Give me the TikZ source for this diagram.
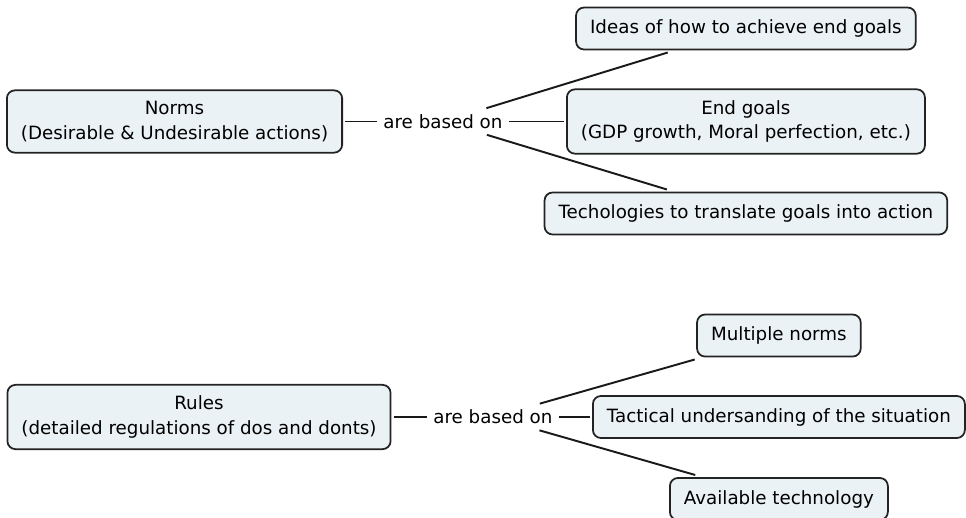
\documentclass[tikz,border=0pt]{standalone}
\usepackage{fontspec}
\setmainfont{DejaVu Sans}
\definecolor{conceptfill}{RGB}{235,242,245}
\definecolor{conceptline}{RGB}{35,35,35}
\begin{document}
\begin{tikzpicture}[x=0.02cm, y=-0.02cm, node distance=2cm, auto, font=\fontsize{10.4}{14}\selectfont]
  % Define styles
  \tikzstyle{concept}=[rectangle, rounded corners=0.16cm, draw=conceptline, line width=1pt, fill=conceptfill, align=center, inner xsep=0.28cm, inner ysep=0.22cm, minimum height=0.84cm, outer sep=0.06cm]
  \tikzstyle{linking}=[inner xsep=0.12cm, inner ysep=0pt, minimum height=0.52cm]
  \tikzstyle{link}=[line width=1.1pt, black!90]

  \useasboundingbox (0,0) rectangle (966,517);

  % Norms
  \node[concept] (norms) at (174.5,121.5) {Norms\\(Desirable \& Undesirable actions)};
  \node[linking, right of=norms, node distance=5.37cm] (basedA) {are based on};
  \node[concept, right of=basedA, node distance=6.06cm] (endgoals) {End goals\\(GDP growth, Moral perfection, etc.)};
  \node[concept, above of=endgoals, node distance=1.86cm] (ideas) {Ideas of how to achieve end goals};
  \node[concept, below of=endgoals, node distance=1.84cm] (techs) {Techologies to translate goals into action};

  % Rules
  \node[concept] (rules) at (199,417) {Rules\\(detailed regulations of dos and donts)};
  \node[linking, right of=rules, node distance=5.88cm] (basedB) {are based on};
  \node[concept, right of=basedB, node distance=5.72cm] (tactical) {Tactical undersanding of the situation};
  \node[concept, above of=tactical, node distance=1.63cm] (multnorms) {Multiple norms};
  \node[concept, below of=tactical, node distance=1.64cm] (availtech) {Available technology};

  % Links
  \draw[link] (norms) -- (basedA);
  \draw[link] (basedA) -- (ideas);
  \draw[link] (basedA) -- (endgoals);
  \draw[link] (basedA) -- (techs);
  \draw[link] (rules) -- (basedB);
  \draw[link] (basedB) -- (multnorms);
  \draw[link] (basedB) -- (tactical);
  \draw[link] (basedB) -- (availtech);
\end{tikzpicture}
\end{document}
